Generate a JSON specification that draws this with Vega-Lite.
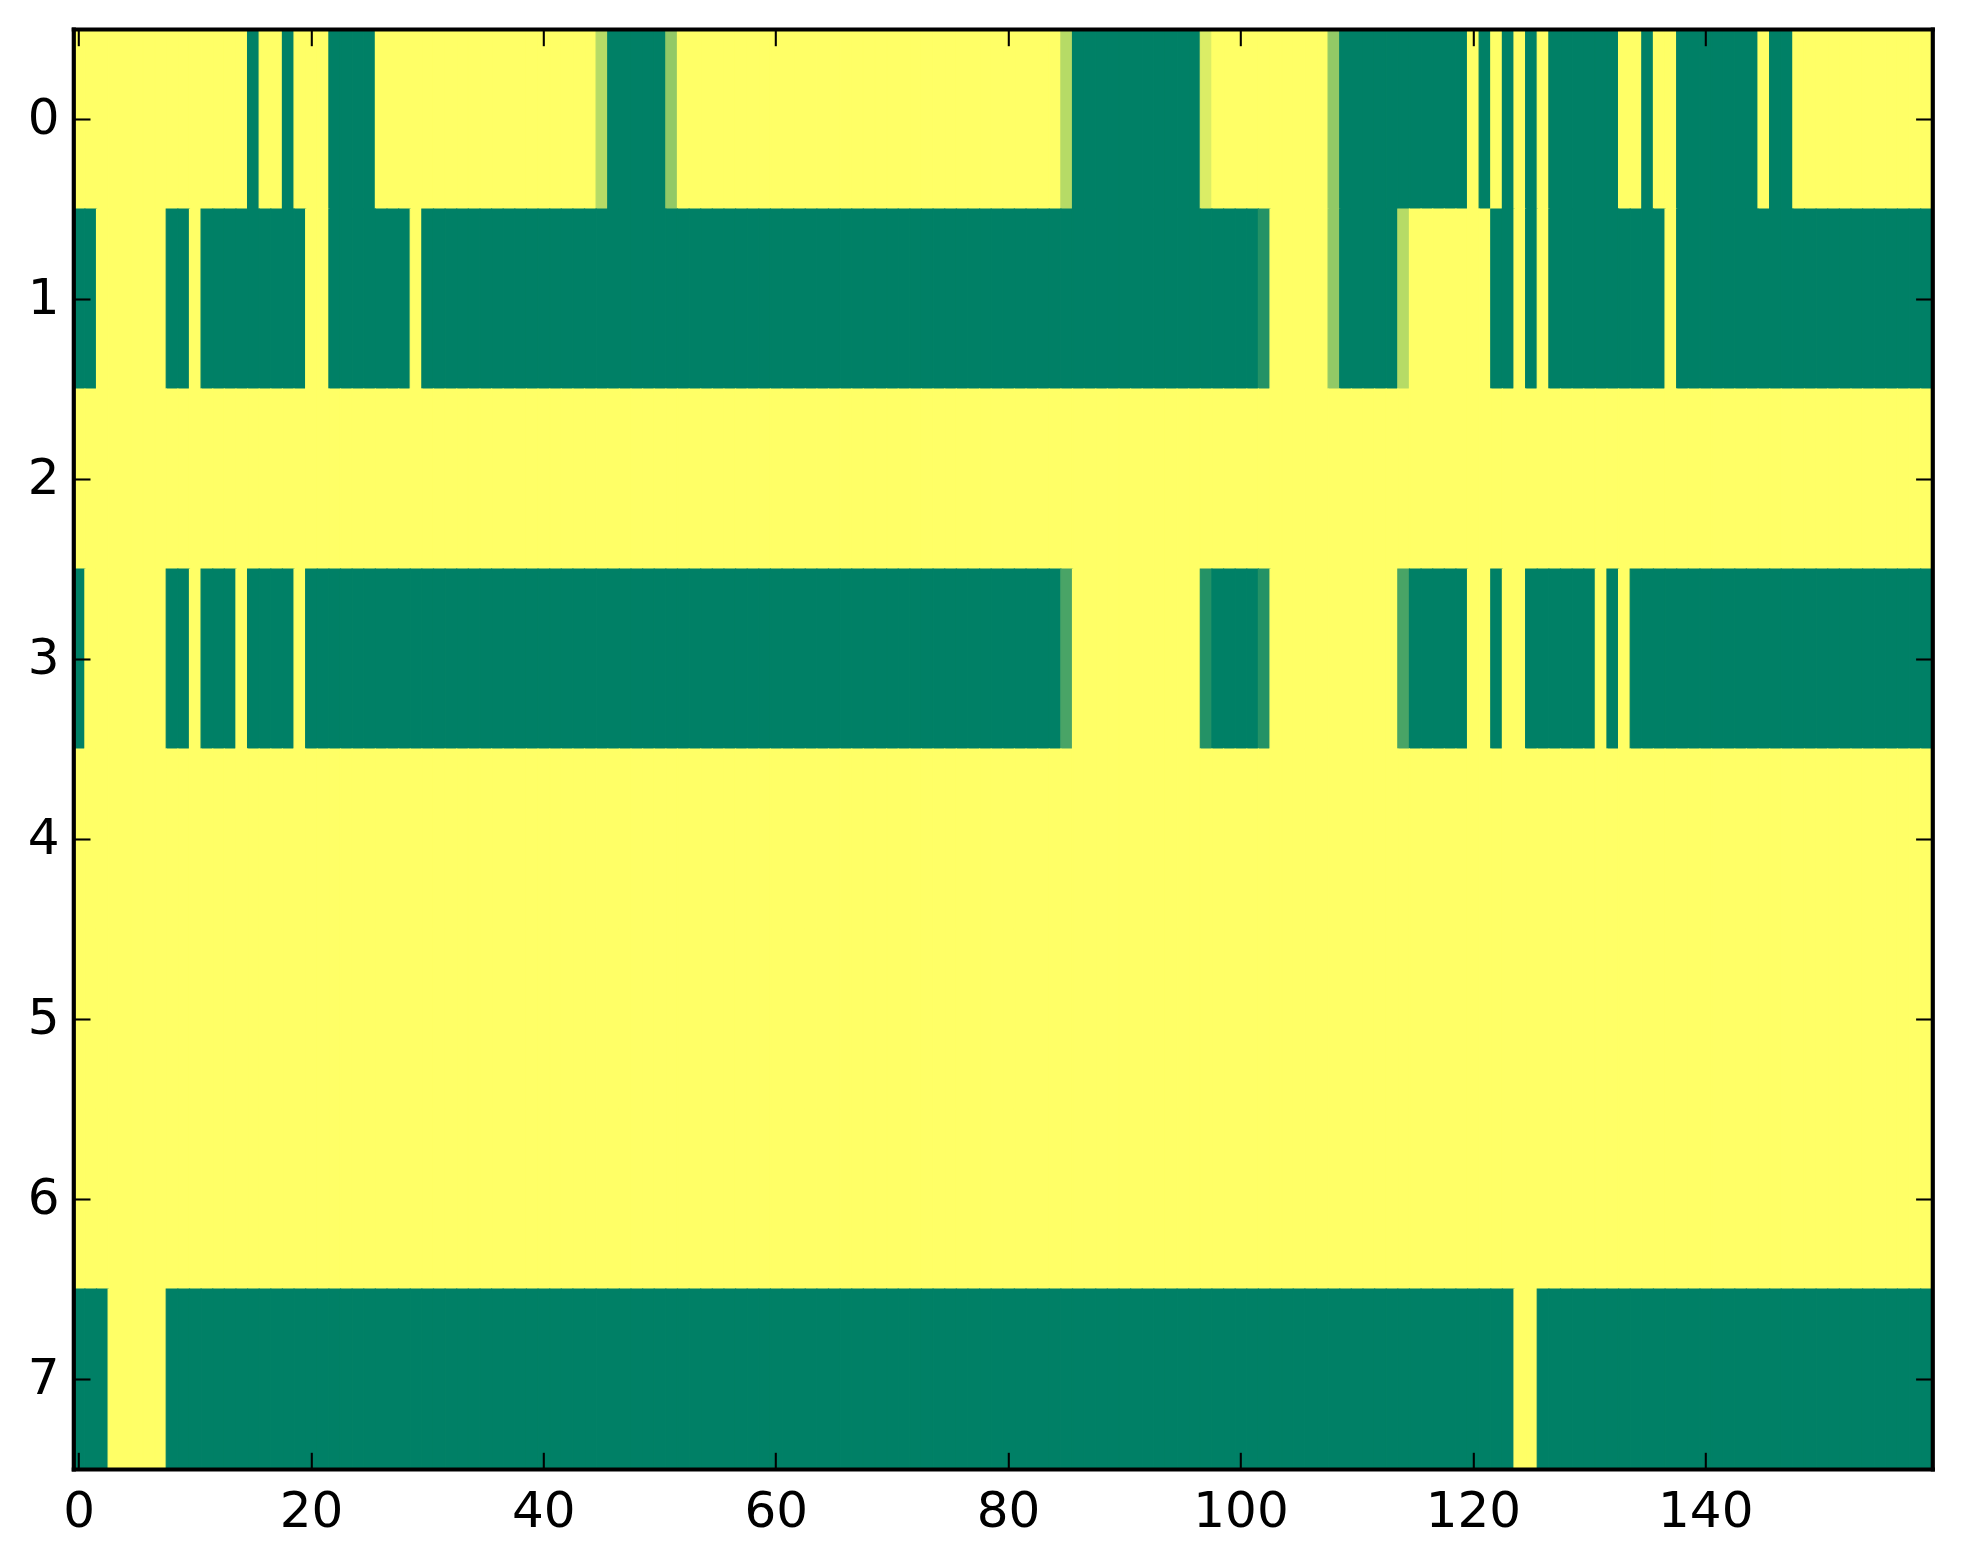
{
"$schema": "https://vega.github.io/schema/vega-lite/v6.json",
"width": 1859,
"height": 1440,
"autosize": {"type": "none"},
"padding": {"left": 73.3, "top": 29, "right": 30, "bottom": 95},
"background": "white",
"config": {
  "view": {"stroke": null},
  "axis": {"domain": true, "domainColor": "black", "domainWidth": 4.17, "domainCap": "square", "ticks": true, "tickColor": "black", "tickSize": -16.7, "tickWidth": 2.08, "grid": false, "labelFont": "DejaVu Sans", "labelFontSize": 50, "labelColor": "black", "zindex": 1, "labelFlush": false, "labelOverlap": false, "title": null},
  "axisX": {"labelPadding": 34},
  "axisY": {"labelPadding": 31}
},
"datasets": {
"cells": [
{"c":0,"r":0,"v":1},{"c":1,"r":0,"v":1},{"c":2,"r":0,"v":1},{"c":3,"r":0,"v":1},{"c":4,"r":0,"v":1},{"c":5,"r":0,"v":1},{"c":6,"r":0,"v":1},{"c":7,"r":0,"v":1},{"c":8,"r":0,"v":1},{"c":9,"r":0,"v":1},
{"c":10,"r":0,"v":1},{"c":11,"r":0,"v":1},{"c":12,"r":0,"v":1},{"c":13,"r":0,"v":1},{"c":14,"r":0,"v":1},{"c":15,"r":0,"v":0},{"c":16,"r":0,"v":1},{"c":17,"r":0,"v":1},{"c":18,"r":0,"v":0},{"c":19,"r":0,"v":1},
{"c":20,"r":0,"v":1},{"c":21,"r":0,"v":1},{"c":22,"r":0,"v":0},{"c":23,"r":0,"v":0},{"c":24,"r":0,"v":0},{"c":25,"r":0,"v":0},{"c":26,"r":0,"v":1},{"c":27,"r":0,"v":1},{"c":28,"r":0,"v":1},{"c":29,"r":0,"v":1},
{"c":30,"r":0,"v":1},{"c":31,"r":0,"v":1},{"c":32,"r":0,"v":1},{"c":33,"r":0,"v":1},{"c":34,"r":0,"v":1},{"c":35,"r":0,"v":1},{"c":36,"r":0,"v":1},{"c":37,"r":0,"v":1},{"c":38,"r":0,"v":1},{"c":39,"r":0,"v":1},
{"c":40,"r":0,"v":1},{"c":41,"r":0,"v":1},{"c":42,"r":0,"v":1},{"c":43,"r":0,"v":1},{"c":44,"r":0,"v":1},{"c":45,"r":0,"v":0.714},{"c":46,"r":0,"v":0},{"c":47,"r":0,"v":0},{"c":48,"r":0,"v":0},{"c":49,"r":0,"v":0},
{"c":50,"r":0,"v":0},{"c":51,"r":0,"v":0.571},{"c":52,"r":0,"v":1},{"c":53,"r":0,"v":1},{"c":54,"r":0,"v":1},{"c":55,"r":0,"v":1},{"c":56,"r":0,"v":1},{"c":57,"r":0,"v":1},{"c":58,"r":0,"v":1},{"c":59,"r":0,"v":1},
{"c":60,"r":0,"v":1},{"c":61,"r":0,"v":1},{"c":62,"r":0,"v":1},{"c":63,"r":0,"v":1},{"c":64,"r":0,"v":1},{"c":65,"r":0,"v":1},{"c":66,"r":0,"v":1},{"c":67,"r":0,"v":1},{"c":68,"r":0,"v":1},{"c":69,"r":0,"v":1},
{"c":70,"r":0,"v":1},{"c":71,"r":0,"v":1},{"c":72,"r":0,"v":1},{"c":73,"r":0,"v":1},{"c":74,"r":0,"v":1},{"c":75,"r":0,"v":1},{"c":76,"r":0,"v":1},{"c":77,"r":0,"v":1},{"c":78,"r":0,"v":1},{"c":79,"r":0,"v":1},
{"c":80,"r":0,"v":1},{"c":81,"r":0,"v":1},{"c":82,"r":0,"v":1},{"c":83,"r":0,"v":1},{"c":84,"r":0,"v":1},{"c":85,"r":0,"v":0.714},{"c":86,"r":0,"v":0},{"c":87,"r":0,"v":0},{"c":88,"r":0,"v":0},{"c":89,"r":0,"v":0},
{"c":90,"r":0,"v":0},{"c":91,"r":0,"v":0},{"c":92,"r":0,"v":0},{"c":93,"r":0,"v":0},{"c":94,"r":0,"v":0},{"c":95,"r":0,"v":0},{"c":96,"r":0,"v":0},{"c":97,"r":0,"v":0.857},{"c":98,"r":0,"v":1},{"c":99,"r":0,"v":1},
{"c":100,"r":0,"v":1},{"c":101,"r":0,"v":1},{"c":102,"r":0,"v":1},{"c":103,"r":0,"v":1},{"c":104,"r":0,"v":1},{"c":105,"r":0,"v":1},{"c":106,"r":0,"v":1},{"c":107,"r":0,"v":1},{"c":108,"r":0,"v":0.571},{"c":109,"r":0,"v":0},
{"c":110,"r":0,"v":0},{"c":111,"r":0,"v":0},{"c":112,"r":0,"v":0},{"c":113,"r":0,"v":0},{"c":114,"r":0,"v":0},{"c":115,"r":0,"v":0},{"c":116,"r":0,"v":0},{"c":117,"r":0,"v":0},{"c":118,"r":0,"v":0},{"c":119,"r":0,"v":0},
{"c":120,"r":0,"v":1},{"c":121,"r":0,"v":0},{"c":122,"r":0,"v":1},{"c":123,"r":0,"v":0},{"c":124,"r":0,"v":1},{"c":125,"r":0,"v":0},{"c":126,"r":0,"v":1},{"c":127,"r":0,"v":0},{"c":128,"r":0,"v":0},{"c":129,"r":0,"v":0},
{"c":130,"r":0,"v":0},{"c":131,"r":0,"v":0},{"c":132,"r":0,"v":0},{"c":133,"r":0,"v":1},{"c":134,"r":0,"v":1},{"c":135,"r":0,"v":0},{"c":136,"r":0,"v":1},{"c":137,"r":0,"v":1},{"c":138,"r":0,"v":0},{"c":139,"r":0,"v":0},
{"c":140,"r":0,"v":0},{"c":141,"r":0,"v":0},{"c":142,"r":0,"v":0},{"c":143,"r":0,"v":0},{"c":144,"r":0,"v":0},{"c":145,"r":0,"v":1},{"c":146,"r":0,"v":0},{"c":147,"r":0,"v":0},{"c":148,"r":0,"v":1},{"c":149,"r":0,"v":1},
{"c":150,"r":0,"v":1},{"c":151,"r":0,"v":1},{"c":152,"r":0,"v":1},{"c":153,"r":0,"v":1},{"c":154,"r":0,"v":1},{"c":155,"r":0,"v":1},{"c":156,"r":0,"v":1},{"c":157,"r":0,"v":1},{"c":158,"r":0,"v":1},{"c":159,"r":0,"v":1},

{"c":0,"r":1,"v":0},{"c":1,"r":1,"v":0},{"c":2,"r":1,"v":1},{"c":3,"r":1,"v":1},{"c":4,"r":1,"v":1},{"c":5,"r":1,"v":1},{"c":6,"r":1,"v":1},{"c":7,"r":1,"v":1},{"c":8,"r":1,"v":0},{"c":9,"r":1,"v":0},
{"c":10,"r":1,"v":1},{"c":11,"r":1,"v":0},{"c":12,"r":1,"v":0},{"c":13,"r":1,"v":0},{"c":14,"r":1,"v":0},{"c":15,"r":1,"v":0},{"c":16,"r":1,"v":0},{"c":17,"r":1,"v":0},{"c":18,"r":1,"v":0},{"c":19,"r":1,"v":0},
{"c":20,"r":1,"v":1},{"c":21,"r":1,"v":1},{"c":22,"r":1,"v":0},{"c":23,"r":1,"v":0},{"c":24,"r":1,"v":0},{"c":25,"r":1,"v":0},{"c":26,"r":1,"v":0},{"c":27,"r":1,"v":0},{"c":28,"r":1,"v":0},{"c":29,"r":1,"v":1},
{"c":30,"r":1,"v":0},{"c":31,"r":1,"v":0},{"c":32,"r":1,"v":0},{"c":33,"r":1,"v":0},{"c":34,"r":1,"v":0},{"c":35,"r":1,"v":0},{"c":36,"r":1,"v":0},{"c":37,"r":1,"v":0},{"c":38,"r":1,"v":0},{"c":39,"r":1,"v":0},
{"c":40,"r":1,"v":0},{"c":41,"r":1,"v":0},{"c":42,"r":1,"v":0},{"c":43,"r":1,"v":0},{"c":44,"r":1,"v":0},{"c":45,"r":1,"v":0},{"c":46,"r":1,"v":0},{"c":47,"r":1,"v":0},{"c":48,"r":1,"v":0},{"c":49,"r":1,"v":0},
{"c":50,"r":1,"v":0},{"c":51,"r":1,"v":0},{"c":52,"r":1,"v":0},{"c":53,"r":1,"v":0},{"c":54,"r":1,"v":0},{"c":55,"r":1,"v":0},{"c":56,"r":1,"v":0},{"c":57,"r":1,"v":0},{"c":58,"r":1,"v":0},{"c":59,"r":1,"v":0},
{"c":60,"r":1,"v":0},{"c":61,"r":1,"v":0},{"c":62,"r":1,"v":0},{"c":63,"r":1,"v":0},{"c":64,"r":1,"v":0},{"c":65,"r":1,"v":0},{"c":66,"r":1,"v":0},{"c":67,"r":1,"v":0},{"c":68,"r":1,"v":0},{"c":69,"r":1,"v":0},
{"c":70,"r":1,"v":0},{"c":71,"r":1,"v":0},{"c":72,"r":1,"v":0},{"c":73,"r":1,"v":0},{"c":74,"r":1,"v":0},{"c":75,"r":1,"v":0},{"c":76,"r":1,"v":0},{"c":77,"r":1,"v":0},{"c":78,"r":1,"v":0},{"c":79,"r":1,"v":0},
{"c":80,"r":1,"v":0},{"c":81,"r":1,"v":0},{"c":82,"r":1,"v":0},{"c":83,"r":1,"v":0},{"c":84,"r":1,"v":0},{"c":85,"r":1,"v":0},{"c":86,"r":1,"v":0},{"c":87,"r":1,"v":0},{"c":88,"r":1,"v":0},{"c":89,"r":1,"v":0},
{"c":90,"r":1,"v":0},{"c":91,"r":1,"v":0},{"c":92,"r":1,"v":0},{"c":93,"r":1,"v":0},{"c":94,"r":1,"v":0},{"c":95,"r":1,"v":0},{"c":96,"r":1,"v":0},{"c":97,"r":1,"v":0},{"c":98,"r":1,"v":0},{"c":99,"r":1,"v":0},
{"c":100,"r":1,"v":0},{"c":101,"r":1,"v":0},{"c":102,"r":1,"v":0.143},{"c":103,"r":1,"v":1},{"c":104,"r":1,"v":1},{"c":105,"r":1,"v":1},{"c":106,"r":1,"v":1},{"c":107,"r":1,"v":1},{"c":108,"r":1,"v":0.571},{"c":109,"r":1,"v":0},
{"c":110,"r":1,"v":0},{"c":111,"r":1,"v":0},{"c":112,"r":1,"v":0},{"c":113,"r":1,"v":0},{"c":114,"r":1,"v":0.714},{"c":115,"r":1,"v":1},{"c":116,"r":1,"v":1},{"c":117,"r":1,"v":1},{"c":118,"r":1,"v":1},{"c":119,"r":1,"v":1},
{"c":120,"r":1,"v":1},{"c":121,"r":1,"v":1},{"c":122,"r":1,"v":0},{"c":123,"r":1,"v":0},{"c":124,"r":1,"v":1},{"c":125,"r":1,"v":0},{"c":126,"r":1,"v":1},{"c":127,"r":1,"v":0},{"c":128,"r":1,"v":0},{"c":129,"r":1,"v":0},
{"c":130,"r":1,"v":0},{"c":131,"r":1,"v":0},{"c":132,"r":1,"v":0},{"c":133,"r":1,"v":0},{"c":134,"r":1,"v":0},{"c":135,"r":1,"v":0},{"c":136,"r":1,"v":0},{"c":137,"r":1,"v":1},{"c":138,"r":1,"v":0},{"c":139,"r":1,"v":0},
{"c":140,"r":1,"v":0},{"c":141,"r":1,"v":0},{"c":142,"r":1,"v":0},{"c":143,"r":1,"v":0},{"c":144,"r":1,"v":0},{"c":145,"r":1,"v":0},{"c":146,"r":1,"v":0},{"c":147,"r":1,"v":0},{"c":148,"r":1,"v":0},{"c":149,"r":1,"v":0},
{"c":150,"r":1,"v":0},{"c":151,"r":1,"v":0},{"c":152,"r":1,"v":0},{"c":153,"r":1,"v":0},{"c":154,"r":1,"v":0},{"c":155,"r":1,"v":0},{"c":156,"r":1,"v":0},{"c":157,"r":1,"v":0},{"c":158,"r":1,"v":0},{"c":159,"r":1,"v":0},

{"c":0,"r":2,"v":1},{"c":1,"r":2,"v":1},{"c":2,"r":2,"v":1},{"c":3,"r":2,"v":1},{"c":4,"r":2,"v":1},{"c":5,"r":2,"v":1},{"c":6,"r":2,"v":1},{"c":7,"r":2,"v":1},{"c":8,"r":2,"v":1},{"c":9,"r":2,"v":1},
{"c":10,"r":2,"v":1},{"c":11,"r":2,"v":1},{"c":12,"r":2,"v":1},{"c":13,"r":2,"v":1},{"c":14,"r":2,"v":1},{"c":15,"r":2,"v":1},{"c":16,"r":2,"v":1},{"c":17,"r":2,"v":1},{"c":18,"r":2,"v":1},{"c":19,"r":2,"v":1},
{"c":20,"r":2,"v":1},{"c":21,"r":2,"v":1},{"c":22,"r":2,"v":1},{"c":23,"r":2,"v":1},{"c":24,"r":2,"v":1},{"c":25,"r":2,"v":1},{"c":26,"r":2,"v":1},{"c":27,"r":2,"v":1},{"c":28,"r":2,"v":1},{"c":29,"r":2,"v":1},
{"c":30,"r":2,"v":1},{"c":31,"r":2,"v":1},{"c":32,"r":2,"v":1},{"c":33,"r":2,"v":1},{"c":34,"r":2,"v":1},{"c":35,"r":2,"v":1},{"c":36,"r":2,"v":1},{"c":37,"r":2,"v":1},{"c":38,"r":2,"v":1},{"c":39,"r":2,"v":1},
{"c":40,"r":2,"v":1},{"c":41,"r":2,"v":1},{"c":42,"r":2,"v":1},{"c":43,"r":2,"v":1},{"c":44,"r":2,"v":1},{"c":45,"r":2,"v":1},{"c":46,"r":2,"v":1},{"c":47,"r":2,"v":1},{"c":48,"r":2,"v":1},{"c":49,"r":2,"v":1},
{"c":50,"r":2,"v":1},{"c":51,"r":2,"v":1},{"c":52,"r":2,"v":1},{"c":53,"r":2,"v":1},{"c":54,"r":2,"v":1},{"c":55,"r":2,"v":1},{"c":56,"r":2,"v":1},{"c":57,"r":2,"v":1},{"c":58,"r":2,"v":1},{"c":59,"r":2,"v":1},
{"c":60,"r":2,"v":1},{"c":61,"r":2,"v":1},{"c":62,"r":2,"v":1},{"c":63,"r":2,"v":1},{"c":64,"r":2,"v":1},{"c":65,"r":2,"v":1},{"c":66,"r":2,"v":1},{"c":67,"r":2,"v":1},{"c":68,"r":2,"v":1},{"c":69,"r":2,"v":1},
{"c":70,"r":2,"v":1},{"c":71,"r":2,"v":1},{"c":72,"r":2,"v":1},{"c":73,"r":2,"v":1},{"c":74,"r":2,"v":1},{"c":75,"r":2,"v":1},{"c":76,"r":2,"v":1},{"c":77,"r":2,"v":1},{"c":78,"r":2,"v":1},{"c":79,"r":2,"v":1},
{"c":80,"r":2,"v":1},{"c":81,"r":2,"v":1},{"c":82,"r":2,"v":1},{"c":83,"r":2,"v":1},{"c":84,"r":2,"v":1},{"c":85,"r":2,"v":1},{"c":86,"r":2,"v":1},{"c":87,"r":2,"v":1},{"c":88,"r":2,"v":1},{"c":89,"r":2,"v":1},
{"c":90,"r":2,"v":1},{"c":91,"r":2,"v":1},{"c":92,"r":2,"v":1},{"c":93,"r":2,"v":1},{"c":94,"r":2,"v":1},{"c":95,"r":2,"v":1},{"c":96,"r":2,"v":1},{"c":97,"r":2,"v":1},{"c":98,"r":2,"v":1},{"c":99,"r":2,"v":1},
{"c":100,"r":2,"v":1},{"c":101,"r":2,"v":1},{"c":102,"r":2,"v":1},{"c":103,"r":2,"v":1},{"c":104,"r":2,"v":1},{"c":105,"r":2,"v":1},{"c":106,"r":2,"v":1},{"c":107,"r":2,"v":1},{"c":108,"r":2,"v":1},{"c":109,"r":2,"v":1},
{"c":110,"r":2,"v":1},{"c":111,"r":2,"v":1},{"c":112,"r":2,"v":1},{"c":113,"r":2,"v":1},{"c":114,"r":2,"v":1},{"c":115,"r":2,"v":1},{"c":116,"r":2,"v":1},{"c":117,"r":2,"v":1},{"c":118,"r":2,"v":1},{"c":119,"r":2,"v":1},
{"c":120,"r":2,"v":1},{"c":121,"r":2,"v":1},{"c":122,"r":2,"v":1},{"c":123,"r":2,"v":1},{"c":124,"r":2,"v":1},{"c":125,"r":2,"v":1},{"c":126,"r":2,"v":1},{"c":127,"r":2,"v":1},{"c":128,"r":2,"v":1},{"c":129,"r":2,"v":1},
{"c":130,"r":2,"v":1},{"c":131,"r":2,"v":1},{"c":132,"r":2,"v":1},{"c":133,"r":2,"v":1},{"c":134,"r":2,"v":1},{"c":135,"r":2,"v":1},{"c":136,"r":2,"v":1},{"c":137,"r":2,"v":1},{"c":138,"r":2,"v":1},{"c":139,"r":2,"v":1},
{"c":140,"r":2,"v":1},{"c":141,"r":2,"v":1},{"c":142,"r":2,"v":1},{"c":143,"r":2,"v":1},{"c":144,"r":2,"v":1},{"c":145,"r":2,"v":1},{"c":146,"r":2,"v":1},{"c":147,"r":2,"v":1},{"c":148,"r":2,"v":1},{"c":149,"r":2,"v":1},
{"c":150,"r":2,"v":1},{"c":151,"r":2,"v":1},{"c":152,"r":2,"v":1},{"c":153,"r":2,"v":1},{"c":154,"r":2,"v":1},{"c":155,"r":2,"v":1},{"c":156,"r":2,"v":1},{"c":157,"r":2,"v":1},{"c":158,"r":2,"v":1},{"c":159,"r":2,"v":1},

{"c":0,"r":3,"v":0},{"c":1,"r":3,"v":1},{"c":2,"r":3,"v":1},{"c":3,"r":3,"v":1},{"c":4,"r":3,"v":1},{"c":5,"r":3,"v":1},{"c":6,"r":3,"v":1},{"c":7,"r":3,"v":1},{"c":8,"r":3,"v":0},{"c":9,"r":3,"v":0},
{"c":10,"r":3,"v":1},{"c":11,"r":3,"v":0},{"c":12,"r":3,"v":0},{"c":13,"r":3,"v":0},{"c":14,"r":3,"v":1},{"c":15,"r":3,"v":0},{"c":16,"r":3,"v":0},{"c":17,"r":3,"v":0},{"c":18,"r":3,"v":0},{"c":19,"r":3,"v":1},
{"c":20,"r":3,"v":0},{"c":21,"r":3,"v":0},{"c":22,"r":3,"v":0},{"c":23,"r":3,"v":0},{"c":24,"r":3,"v":0},{"c":25,"r":3,"v":0},{"c":26,"r":3,"v":0},{"c":27,"r":3,"v":0},{"c":28,"r":3,"v":0},{"c":29,"r":3,"v":0},
{"c":30,"r":3,"v":0},{"c":31,"r":3,"v":0},{"c":32,"r":3,"v":0},{"c":33,"r":3,"v":0},{"c":34,"r":3,"v":0},{"c":35,"r":3,"v":0},{"c":36,"r":3,"v":0},{"c":37,"r":3,"v":0},{"c":38,"r":3,"v":0},{"c":39,"r":3,"v":0},
{"c":40,"r":3,"v":0},{"c":41,"r":3,"v":0},{"c":42,"r":3,"v":0},{"c":43,"r":3,"v":0},{"c":44,"r":3,"v":0},{"c":45,"r":3,"v":0},{"c":46,"r":3,"v":0},{"c":47,"r":3,"v":0},{"c":48,"r":3,"v":0},{"c":49,"r":3,"v":0},
{"c":50,"r":3,"v":0},{"c":51,"r":3,"v":0},{"c":52,"r":3,"v":0},{"c":53,"r":3,"v":0},{"c":54,"r":3,"v":0},{"c":55,"r":3,"v":0},{"c":56,"r":3,"v":0},{"c":57,"r":3,"v":0},{"c":58,"r":3,"v":0},{"c":59,"r":3,"v":0},
{"c":60,"r":3,"v":0},{"c":61,"r":3,"v":0},{"c":62,"r":3,"v":0},{"c":63,"r":3,"v":0},{"c":64,"r":3,"v":0},{"c":65,"r":3,"v":0},{"c":66,"r":3,"v":0},{"c":67,"r":3,"v":0},{"c":68,"r":3,"v":0},{"c":69,"r":3,"v":0},
{"c":70,"r":3,"v":0},{"c":71,"r":3,"v":0},{"c":72,"r":3,"v":0},{"c":73,"r":3,"v":0},{"c":74,"r":3,"v":0},{"c":75,"r":3,"v":0},{"c":76,"r":3,"v":0},{"c":77,"r":3,"v":0},{"c":78,"r":3,"v":0},{"c":79,"r":3,"v":0},
{"c":80,"r":3,"v":0},{"c":81,"r":3,"v":0},{"c":82,"r":3,"v":0},{"c":83,"r":3,"v":0},{"c":84,"r":3,"v":0},{"c":85,"r":3,"v":0.286},{"c":86,"r":3,"v":1},{"c":87,"r":3,"v":1},{"c":88,"r":3,"v":1},{"c":89,"r":3,"v":1},
{"c":90,"r":3,"v":1},{"c":91,"r":3,"v":1},{"c":92,"r":3,"v":1},{"c":93,"r":3,"v":1},{"c":94,"r":3,"v":1},{"c":95,"r":3,"v":1},{"c":96,"r":3,"v":1},{"c":97,"r":3,"v":0.143},{"c":98,"r":3,"v":0},{"c":99,"r":3,"v":0},
{"c":100,"r":3,"v":0},{"c":101,"r":3,"v":0},{"c":102,"r":3,"v":0.143},{"c":103,"r":3,"v":1},{"c":104,"r":3,"v":1},{"c":105,"r":3,"v":1},{"c":106,"r":3,"v":1},{"c":107,"r":3,"v":1},{"c":108,"r":3,"v":1},{"c":109,"r":3,"v":1},
{"c":110,"r":3,"v":1},{"c":111,"r":3,"v":1},{"c":112,"r":3,"v":1},{"c":113,"r":3,"v":1},{"c":114,"r":3,"v":0.286},{"c":115,"r":3,"v":0},{"c":116,"r":3,"v":0},{"c":117,"r":3,"v":0},{"c":118,"r":3,"v":0},{"c":119,"r":3,"v":0},
{"c":120,"r":3,"v":1},{"c":121,"r":3,"v":1},{"c":122,"r":3,"v":0},{"c":123,"r":3,"v":1},{"c":124,"r":3,"v":1},{"c":125,"r":3,"v":0},{"c":126,"r":3,"v":0},{"c":127,"r":3,"v":0},{"c":128,"r":3,"v":0},{"c":129,"r":3,"v":0},
{"c":130,"r":3,"v":0},{"c":131,"r":3,"v":1},{"c":132,"r":3,"v":0},{"c":133,"r":3,"v":1},{"c":134,"r":3,"v":0},{"c":135,"r":3,"v":0},{"c":136,"r":3,"v":0},{"c":137,"r":3,"v":0},{"c":138,"r":3,"v":0},{"c":139,"r":3,"v":0},
{"c":140,"r":3,"v":0},{"c":141,"r":3,"v":0},{"c":142,"r":3,"v":0},{"c":143,"r":3,"v":0},{"c":144,"r":3,"v":0},{"c":145,"r":3,"v":0},{"c":146,"r":3,"v":0},{"c":147,"r":3,"v":0},{"c":148,"r":3,"v":0},{"c":149,"r":3,"v":0},
{"c":150,"r":3,"v":0},{"c":151,"r":3,"v":0},{"c":152,"r":3,"v":0},{"c":153,"r":3,"v":0},{"c":154,"r":3,"v":0},{"c":155,"r":3,"v":0},{"c":156,"r":3,"v":0},{"c":157,"r":3,"v":0},{"c":158,"r":3,"v":0},{"c":159,"r":3,"v":0},

{"c":0,"r":4,"v":1},{"c":1,"r":4,"v":1},{"c":2,"r":4,"v":1},{"c":3,"r":4,"v":1},{"c":4,"r":4,"v":1},{"c":5,"r":4,"v":1},{"c":6,"r":4,"v":1},{"c":7,"r":4,"v":1},{"c":8,"r":4,"v":1},{"c":9,"r":4,"v":1},
{"c":10,"r":4,"v":1},{"c":11,"r":4,"v":1},{"c":12,"r":4,"v":1},{"c":13,"r":4,"v":1},{"c":14,"r":4,"v":1},{"c":15,"r":4,"v":1},{"c":16,"r":4,"v":1},{"c":17,"r":4,"v":1},{"c":18,"r":4,"v":1},{"c":19,"r":4,"v":1},
{"c":20,"r":4,"v":1},{"c":21,"r":4,"v":1},{"c":22,"r":4,"v":1},{"c":23,"r":4,"v":1},{"c":24,"r":4,"v":1},{"c":25,"r":4,"v":1},{"c":26,"r":4,"v":1},{"c":27,"r":4,"v":1},{"c":28,"r":4,"v":1},{"c":29,"r":4,"v":1},
{"c":30,"r":4,"v":1},{"c":31,"r":4,"v":1},{"c":32,"r":4,"v":1},{"c":33,"r":4,"v":1},{"c":34,"r":4,"v":1},{"c":35,"r":4,"v":1},{"c":36,"r":4,"v":1},{"c":37,"r":4,"v":1},{"c":38,"r":4,"v":1},{"c":39,"r":4,"v":1},
{"c":40,"r":4,"v":1},{"c":41,"r":4,"v":1},{"c":42,"r":4,"v":1},{"c":43,"r":4,"v":1},{"c":44,"r":4,"v":1},{"c":45,"r":4,"v":1},{"c":46,"r":4,"v":1},{"c":47,"r":4,"v":1},{"c":48,"r":4,"v":1},{"c":49,"r":4,"v":1},
{"c":50,"r":4,"v":1},{"c":51,"r":4,"v":1},{"c":52,"r":4,"v":1},{"c":53,"r":4,"v":1},{"c":54,"r":4,"v":1},{"c":55,"r":4,"v":1},{"c":56,"r":4,"v":1},{"c":57,"r":4,"v":1},{"c":58,"r":4,"v":1},{"c":59,"r":4,"v":1},
{"c":60,"r":4,"v":1},{"c":61,"r":4,"v":1},{"c":62,"r":4,"v":1},{"c":63,"r":4,"v":1},{"c":64,"r":4,"v":1},{"c":65,"r":4,"v":1},{"c":66,"r":4,"v":1},{"c":67,"r":4,"v":1},{"c":68,"r":4,"v":1},{"c":69,"r":4,"v":1},
{"c":70,"r":4,"v":1},{"c":71,"r":4,"v":1},{"c":72,"r":4,"v":1},{"c":73,"r":4,"v":1},{"c":74,"r":4,"v":1},{"c":75,"r":4,"v":1},{"c":76,"r":4,"v":1},{"c":77,"r":4,"v":1},{"c":78,"r":4,"v":1},{"c":79,"r":4,"v":1},
{"c":80,"r":4,"v":1},{"c":81,"r":4,"v":1},{"c":82,"r":4,"v":1},{"c":83,"r":4,"v":1},{"c":84,"r":4,"v":1},{"c":85,"r":4,"v":1},{"c":86,"r":4,"v":1},{"c":87,"r":4,"v":1},{"c":88,"r":4,"v":1},{"c":89,"r":4,"v":1},
{"c":90,"r":4,"v":1},{"c":91,"r":4,"v":1},{"c":92,"r":4,"v":1},{"c":93,"r":4,"v":1},{"c":94,"r":4,"v":1},{"c":95,"r":4,"v":1},{"c":96,"r":4,"v":1},{"c":97,"r":4,"v":1},{"c":98,"r":4,"v":1},{"c":99,"r":4,"v":1},
{"c":100,"r":4,"v":1},{"c":101,"r":4,"v":1},{"c":102,"r":4,"v":1},{"c":103,"r":4,"v":1},{"c":104,"r":4,"v":1},{"c":105,"r":4,"v":1},{"c":106,"r":4,"v":1},{"c":107,"r":4,"v":1},{"c":108,"r":4,"v":1},{"c":109,"r":4,"v":1},
{"c":110,"r":4,"v":1},{"c":111,"r":4,"v":1},{"c":112,"r":4,"v":1},{"c":113,"r":4,"v":1},{"c":114,"r":4,"v":1},{"c":115,"r":4,"v":1},{"c":116,"r":4,"v":1},{"c":117,"r":4,"v":1},{"c":118,"r":4,"v":1},{"c":119,"r":4,"v":1},
{"c":120,"r":4,"v":1},{"c":121,"r":4,"v":1},{"c":122,"r":4,"v":1},{"c":123,"r":4,"v":1},{"c":124,"r":4,"v":1},{"c":125,"r":4,"v":1},{"c":126,"r":4,"v":1},{"c":127,"r":4,"v":1},{"c":128,"r":4,"v":1},{"c":129,"r":4,"v":1},
{"c":130,"r":4,"v":1},{"c":131,"r":4,"v":1},{"c":132,"r":4,"v":1},{"c":133,"r":4,"v":1},{"c":134,"r":4,"v":1},{"c":135,"r":4,"v":1},{"c":136,"r":4,"v":1},{"c":137,"r":4,"v":1},{"c":138,"r":4,"v":1},{"c":139,"r":4,"v":1},
{"c":140,"r":4,"v":1},{"c":141,"r":4,"v":1},{"c":142,"r":4,"v":1},{"c":143,"r":4,"v":1},{"c":144,"r":4,"v":1},{"c":145,"r":4,"v":1},{"c":146,"r":4,"v":1},{"c":147,"r":4,"v":1},{"c":148,"r":4,"v":1},{"c":149,"r":4,"v":1},
{"c":150,"r":4,"v":1},{"c":151,"r":4,"v":1},{"c":152,"r":4,"v":1},{"c":153,"r":4,"v":1},{"c":154,"r":4,"v":1},{"c":155,"r":4,"v":1},{"c":156,"r":4,"v":1},{"c":157,"r":4,"v":1},{"c":158,"r":4,"v":1},{"c":159,"r":4,"v":1},

{"c":0,"r":5,"v":1},{"c":1,"r":5,"v":1},{"c":2,"r":5,"v":1},{"c":3,"r":5,"v":1},{"c":4,"r":5,"v":1},{"c":5,"r":5,"v":1},{"c":6,"r":5,"v":1},{"c":7,"r":5,"v":1},{"c":8,"r":5,"v":1},{"c":9,"r":5,"v":1},
{"c":10,"r":5,"v":1},{"c":11,"r":5,"v":1},{"c":12,"r":5,"v":1},{"c":13,"r":5,"v":1},{"c":14,"r":5,"v":1},{"c":15,"r":5,"v":1},{"c":16,"r":5,"v":1},{"c":17,"r":5,"v":1},{"c":18,"r":5,"v":1},{"c":19,"r":5,"v":1},
{"c":20,"r":5,"v":1},{"c":21,"r":5,"v":1},{"c":22,"r":5,"v":1},{"c":23,"r":5,"v":1},{"c":24,"r":5,"v":1},{"c":25,"r":5,"v":1},{"c":26,"r":5,"v":1},{"c":27,"r":5,"v":1},{"c":28,"r":5,"v":1},{"c":29,"r":5,"v":1},
{"c":30,"r":5,"v":1},{"c":31,"r":5,"v":1},{"c":32,"r":5,"v":1},{"c":33,"r":5,"v":1},{"c":34,"r":5,"v":1},{"c":35,"r":5,"v":1},{"c":36,"r":5,"v":1},{"c":37,"r":5,"v":1},{"c":38,"r":5,"v":1},{"c":39,"r":5,"v":1},
{"c":40,"r":5,"v":1},{"c":41,"r":5,"v":1},{"c":42,"r":5,"v":1},{"c":43,"r":5,"v":1},{"c":44,"r":5,"v":1},{"c":45,"r":5,"v":1},{"c":46,"r":5,"v":1},{"c":47,"r":5,"v":1},{"c":48,"r":5,"v":1},{"c":49,"r":5,"v":1},
{"c":50,"r":5,"v":1},{"c":51,"r":5,"v":1},{"c":52,"r":5,"v":1},{"c":53,"r":5,"v":1},{"c":54,"r":5,"v":1},{"c":55,"r":5,"v":1},{"c":56,"r":5,"v":1},{"c":57,"r":5,"v":1},{"c":58,"r":5,"v":1},{"c":59,"r":5,"v":1},
{"c":60,"r":5,"v":1},{"c":61,"r":5,"v":1},{"c":62,"r":5,"v":1},{"c":63,"r":5,"v":1},{"c":64,"r":5,"v":1},{"c":65,"r":5,"v":1},{"c":66,"r":5,"v":1},{"c":67,"r":5,"v":1},{"c":68,"r":5,"v":1},{"c":69,"r":5,"v":1},
{"c":70,"r":5,"v":1},{"c":71,"r":5,"v":1},{"c":72,"r":5,"v":1},{"c":73,"r":5,"v":1},{"c":74,"r":5,"v":1},{"c":75,"r":5,"v":1},{"c":76,"r":5,"v":1},{"c":77,"r":5,"v":1},{"c":78,"r":5,"v":1},{"c":79,"r":5,"v":1},
{"c":80,"r":5,"v":1},{"c":81,"r":5,"v":1},{"c":82,"r":5,"v":1},{"c":83,"r":5,"v":1},{"c":84,"r":5,"v":1},{"c":85,"r":5,"v":1},{"c":86,"r":5,"v":1},{"c":87,"r":5,"v":1},{"c":88,"r":5,"v":1},{"c":89,"r":5,"v":1},
{"c":90,"r":5,"v":1},{"c":91,"r":5,"v":1},{"c":92,"r":5,"v":1},{"c":93,"r":5,"v":1},{"c":94,"r":5,"v":1},{"c":95,"r":5,"v":1},{"c":96,"r":5,"v":1},{"c":97,"r":5,"v":1},{"c":98,"r":5,"v":1},{"c":99,"r":5,"v":1},
{"c":100,"r":5,"v":1},{"c":101,"r":5,"v":1},{"c":102,"r":5,"v":1},{"c":103,"r":5,"v":1},{"c":104,"r":5,"v":1},{"c":105,"r":5,"v":1},{"c":106,"r":5,"v":1},{"c":107,"r":5,"v":1},{"c":108,"r":5,"v":1},{"c":109,"r":5,"v":1},
{"c":110,"r":5,"v":1},{"c":111,"r":5,"v":1},{"c":112,"r":5,"v":1},{"c":113,"r":5,"v":1},{"c":114,"r":5,"v":1},{"c":115,"r":5,"v":1},{"c":116,"r":5,"v":1},{"c":117,"r":5,"v":1},{"c":118,"r":5,"v":1},{"c":119,"r":5,"v":1},
{"c":120,"r":5,"v":1},{"c":121,"r":5,"v":1},{"c":122,"r":5,"v":1},{"c":123,"r":5,"v":1},{"c":124,"r":5,"v":1},{"c":125,"r":5,"v":1},{"c":126,"r":5,"v":1},{"c":127,"r":5,"v":1},{"c":128,"r":5,"v":1},{"c":129,"r":5,"v":1},
{"c":130,"r":5,"v":1},{"c":131,"r":5,"v":1},{"c":132,"r":5,"v":1},{"c":133,"r":5,"v":1},{"c":134,"r":5,"v":1},{"c":135,"r":5,"v":1},{"c":136,"r":5,"v":1},{"c":137,"r":5,"v":1},{"c":138,"r":5,"v":1},{"c":139,"r":5,"v":1},
{"c":140,"r":5,"v":1},{"c":141,"r":5,"v":1},{"c":142,"r":5,"v":1},{"c":143,"r":5,"v":1},{"c":144,"r":5,"v":1},{"c":145,"r":5,"v":1},{"c":146,"r":5,"v":1},{"c":147,"r":5,"v":1},{"c":148,"r":5,"v":1},{"c":149,"r":5,"v":1},
{"c":150,"r":5,"v":1},{"c":151,"r":5,"v":1},{"c":152,"r":5,"v":1},{"c":153,"r":5,"v":1},{"c":154,"r":5,"v":1},{"c":155,"r":5,"v":1},{"c":156,"r":5,"v":1},{"c":157,"r":5,"v":1},{"c":158,"r":5,"v":1},{"c":159,"r":5,"v":1},

{"c":0,"r":6,"v":1},{"c":1,"r":6,"v":1},{"c":2,"r":6,"v":1},{"c":3,"r":6,"v":1},{"c":4,"r":6,"v":1},{"c":5,"r":6,"v":1},{"c":6,"r":6,"v":1},{"c":7,"r":6,"v":1},{"c":8,"r":6,"v":1},{"c":9,"r":6,"v":1},
{"c":10,"r":6,"v":1},{"c":11,"r":6,"v":1},{"c":12,"r":6,"v":1},{"c":13,"r":6,"v":1},{"c":14,"r":6,"v":1},{"c":15,"r":6,"v":1},{"c":16,"r":6,"v":1},{"c":17,"r":6,"v":1},{"c":18,"r":6,"v":1},{"c":19,"r":6,"v":1},
{"c":20,"r":6,"v":1},{"c":21,"r":6,"v":1},{"c":22,"r":6,"v":1},{"c":23,"r":6,"v":1},{"c":24,"r":6,"v":1},{"c":25,"r":6,"v":1},{"c":26,"r":6,"v":1},{"c":27,"r":6,"v":1},{"c":28,"r":6,"v":1},{"c":29,"r":6,"v":1},
{"c":30,"r":6,"v":1},{"c":31,"r":6,"v":1},{"c":32,"r":6,"v":1},{"c":33,"r":6,"v":1},{"c":34,"r":6,"v":1},{"c":35,"r":6,"v":1},{"c":36,"r":6,"v":1},{"c":37,"r":6,"v":1},{"c":38,"r":6,"v":1},{"c":39,"r":6,"v":1},
{"c":40,"r":6,"v":1},{"c":41,"r":6,"v":1},{"c":42,"r":6,"v":1},{"c":43,"r":6,"v":1},{"c":44,"r":6,"v":1},{"c":45,"r":6,"v":1},{"c":46,"r":6,"v":1},{"c":47,"r":6,"v":1},{"c":48,"r":6,"v":1},{"c":49,"r":6,"v":1},
{"c":50,"r":6,"v":1},{"c":51,"r":6,"v":1},{"c":52,"r":6,"v":1},{"c":53,"r":6,"v":1},{"c":54,"r":6,"v":1},{"c":55,"r":6,"v":1},{"c":56,"r":6,"v":1},{"c":57,"r":6,"v":1},{"c":58,"r":6,"v":1},{"c":59,"r":6,"v":1},
{"c":60,"r":6,"v":1},{"c":61,"r":6,"v":1},{"c":62,"r":6,"v":1},{"c":63,"r":6,"v":1},{"c":64,"r":6,"v":1},{"c":65,"r":6,"v":1},{"c":66,"r":6,"v":1},{"c":67,"r":6,"v":1},{"c":68,"r":6,"v":1},{"c":69,"r":6,"v":1},
{"c":70,"r":6,"v":1},{"c":71,"r":6,"v":1},{"c":72,"r":6,"v":1},{"c":73,"r":6,"v":1},{"c":74,"r":6,"v":1},{"c":75,"r":6,"v":1},{"c":76,"r":6,"v":1},{"c":77,"r":6,"v":1},{"c":78,"r":6,"v":1},{"c":79,"r":6,"v":1},
{"c":80,"r":6,"v":1},{"c":81,"r":6,"v":1},{"c":82,"r":6,"v":1},{"c":83,"r":6,"v":1},{"c":84,"r":6,"v":1},{"c":85,"r":6,"v":1},{"c":86,"r":6,"v":1},{"c":87,"r":6,"v":1},{"c":88,"r":6,"v":1},{"c":89,"r":6,"v":1},
{"c":90,"r":6,"v":1},{"c":91,"r":6,"v":1},{"c":92,"r":6,"v":1},{"c":93,"r":6,"v":1},{"c":94,"r":6,"v":1},{"c":95,"r":6,"v":1},{"c":96,"r":6,"v":1},{"c":97,"r":6,"v":1},{"c":98,"r":6,"v":1},{"c":99,"r":6,"v":1},
{"c":100,"r":6,"v":1},{"c":101,"r":6,"v":1},{"c":102,"r":6,"v":1},{"c":103,"r":6,"v":1},{"c":104,"r":6,"v":1},{"c":105,"r":6,"v":1},{"c":106,"r":6,"v":1},{"c":107,"r":6,"v":1},{"c":108,"r":6,"v":1},{"c":109,"r":6,"v":1},
{"c":110,"r":6,"v":1},{"c":111,"r":6,"v":1},{"c":112,"r":6,"v":1},{"c":113,"r":6,"v":1},{"c":114,"r":6,"v":1},{"c":115,"r":6,"v":1},{"c":116,"r":6,"v":1},{"c":117,"r":6,"v":1},{"c":118,"r":6,"v":1},{"c":119,"r":6,"v":1},
{"c":120,"r":6,"v":1},{"c":121,"r":6,"v":1},{"c":122,"r":6,"v":1},{"c":123,"r":6,"v":1},{"c":124,"r":6,"v":1},{"c":125,"r":6,"v":1},{"c":126,"r":6,"v":1},{"c":127,"r":6,"v":1},{"c":128,"r":6,"v":1},{"c":129,"r":6,"v":1},
{"c":130,"r":6,"v":1},{"c":131,"r":6,"v":1},{"c":132,"r":6,"v":1},{"c":133,"r":6,"v":1},{"c":134,"r":6,"v":1},{"c":135,"r":6,"v":1},{"c":136,"r":6,"v":1},{"c":137,"r":6,"v":1},{"c":138,"r":6,"v":1},{"c":139,"r":6,"v":1},
{"c":140,"r":6,"v":1},{"c":141,"r":6,"v":1},{"c":142,"r":6,"v":1},{"c":143,"r":6,"v":1},{"c":144,"r":6,"v":1},{"c":145,"r":6,"v":1},{"c":146,"r":6,"v":1},{"c":147,"r":6,"v":1},{"c":148,"r":6,"v":1},{"c":149,"r":6,"v":1},
{"c":150,"r":6,"v":1},{"c":151,"r":6,"v":1},{"c":152,"r":6,"v":1},{"c":153,"r":6,"v":1},{"c":154,"r":6,"v":1},{"c":155,"r":6,"v":1},{"c":156,"r":6,"v":1},{"c":157,"r":6,"v":1},{"c":158,"r":6,"v":1},{"c":159,"r":6,"v":1},

{"c":0,"r":7,"v":0},{"c":1,"r":7,"v":0},{"c":2,"r":7,"v":0},{"c":3,"r":7,"v":1},{"c":4,"r":7,"v":1},{"c":5,"r":7,"v":1},{"c":6,"r":7,"v":1},{"c":7,"r":7,"v":1},{"c":8,"r":7,"v":0},{"c":9,"r":7,"v":0},
{"c":10,"r":7,"v":0},{"c":11,"r":7,"v":0},{"c":12,"r":7,"v":0},{"c":13,"r":7,"v":0},{"c":14,"r":7,"v":0},{"c":15,"r":7,"v":0},{"c":16,"r":7,"v":0},{"c":17,"r":7,"v":0},{"c":18,"r":7,"v":0},{"c":19,"r":7,"v":0},
{"c":20,"r":7,"v":0},{"c":21,"r":7,"v":0},{"c":22,"r":7,"v":0},{"c":23,"r":7,"v":0},{"c":24,"r":7,"v":0},{"c":25,"r":7,"v":0},{"c":26,"r":7,"v":0},{"c":27,"r":7,"v":0},{"c":28,"r":7,"v":0},{"c":29,"r":7,"v":0},
{"c":30,"r":7,"v":0},{"c":31,"r":7,"v":0},{"c":32,"r":7,"v":0},{"c":33,"r":7,"v":0},{"c":34,"r":7,"v":0},{"c":35,"r":7,"v":0},{"c":36,"r":7,"v":0},{"c":37,"r":7,"v":0},{"c":38,"r":7,"v":0},{"c":39,"r":7,"v":0},
{"c":40,"r":7,"v":0},{"c":41,"r":7,"v":0},{"c":42,"r":7,"v":0},{"c":43,"r":7,"v":0},{"c":44,"r":7,"v":0},{"c":45,"r":7,"v":0},{"c":46,"r":7,"v":0},{"c":47,"r":7,"v":0},{"c":48,"r":7,"v":0},{"c":49,"r":7,"v":0},
{"c":50,"r":7,"v":0},{"c":51,"r":7,"v":0},{"c":52,"r":7,"v":0},{"c":53,"r":7,"v":0},{"c":54,"r":7,"v":0},{"c":55,"r":7,"v":0},{"c":56,"r":7,"v":0},{"c":57,"r":7,"v":0},{"c":58,"r":7,"v":0},{"c":59,"r":7,"v":0},
{"c":60,"r":7,"v":0},{"c":61,"r":7,"v":0},{"c":62,"r":7,"v":0},{"c":63,"r":7,"v":0},{"c":64,"r":7,"v":0},{"c":65,"r":7,"v":0},{"c":66,"r":7,"v":0},{"c":67,"r":7,"v":0},{"c":68,"r":7,"v":0},{"c":69,"r":7,"v":0},
{"c":70,"r":7,"v":0},{"c":71,"r":7,"v":0},{"c":72,"r":7,"v":0},{"c":73,"r":7,"v":0},{"c":74,"r":7,"v":0},{"c":75,"r":7,"v":0},{"c":76,"r":7,"v":0},{"c":77,"r":7,"v":0},{"c":78,"r":7,"v":0},{"c":79,"r":7,"v":0},
{"c":80,"r":7,"v":0},{"c":81,"r":7,"v":0},{"c":82,"r":7,"v":0},{"c":83,"r":7,"v":0},{"c":84,"r":7,"v":0},{"c":85,"r":7,"v":0},{"c":86,"r":7,"v":0},{"c":87,"r":7,"v":0},{"c":88,"r":7,"v":0},{"c":89,"r":7,"v":0},
{"c":90,"r":7,"v":0},{"c":91,"r":7,"v":0},{"c":92,"r":7,"v":0},{"c":93,"r":7,"v":0},{"c":94,"r":7,"v":0},{"c":95,"r":7,"v":0},{"c":96,"r":7,"v":0},{"c":97,"r":7,"v":0},{"c":98,"r":7,"v":0},{"c":99,"r":7,"v":0},
{"c":100,"r":7,"v":0},{"c":101,"r":7,"v":0},{"c":102,"r":7,"v":0},{"c":103,"r":7,"v":0},{"c":104,"r":7,"v":0},{"c":105,"r":7,"v":0},{"c":106,"r":7,"v":0},{"c":107,"r":7,"v":0},{"c":108,"r":7,"v":0},{"c":109,"r":7,"v":0},
{"c":110,"r":7,"v":0},{"c":111,"r":7,"v":0},{"c":112,"r":7,"v":0},{"c":113,"r":7,"v":0},{"c":114,"r":7,"v":0},{"c":115,"r":7,"v":0},{"c":116,"r":7,"v":0},{"c":117,"r":7,"v":0},{"c":118,"r":7,"v":0},{"c":119,"r":7,"v":0},
{"c":120,"r":7,"v":0},{"c":121,"r":7,"v":0},{"c":122,"r":7,"v":0},{"c":123,"r":7,"v":0},{"c":124,"r":7,"v":1},{"c":125,"r":7,"v":1},{"c":126,"r":7,"v":0},{"c":127,"r":7,"v":0},{"c":128,"r":7,"v":0},{"c":129,"r":7,"v":0},
{"c":130,"r":7,"v":0},{"c":131,"r":7,"v":0},{"c":132,"r":7,"v":0},{"c":133,"r":7,"v":0},{"c":134,"r":7,"v":0},{"c":135,"r":7,"v":0},{"c":136,"r":7,"v":0},{"c":137,"r":7,"v":0},{"c":138,"r":7,"v":0},{"c":139,"r":7,"v":0},
{"c":140,"r":7,"v":0},{"c":141,"r":7,"v":0},{"c":142,"r":7,"v":0},{"c":143,"r":7,"v":0},{"c":144,"r":7,"v":0},{"c":145,"r":7,"v":0},{"c":146,"r":7,"v":0},{"c":147,"r":7,"v":0},{"c":148,"r":7,"v":0},{"c":149,"r":7,"v":0},
{"c":150,"r":7,"v":0},{"c":151,"r":7,"v":0},{"c":152,"r":7,"v":0},{"c":153,"r":7,"v":0},{"c":154,"r":7,"v":0},{"c":155,"r":7,"v":0},{"c":156,"r":7,"v":0},{"c":157,"r":7,"v":0},{"c":158,"r":7,"v":0},{"c":159,"r":7,"v":0}
]
},
"data": {"name": "cells"},
"layer": [
  {
    "mark": {"type": "rect", "strokeWidth": 1.2},
    "encoding": {
      "x": {"field": "c", "type": "ordinal", "scale": {"paddingInner": 0, "paddingOuter": 0}, "axis": {"orient": "bottom", "values": [0,20,40,60,80,100,120,140], "labelAngle": 0, "title": null, "zindex": 1}},
      "y": {"field": "r", "type": "ordinal", "scale": {"paddingInner": 0, "paddingOuter": 0}, "axis": {"orient": "left", "labelAngle": 0, "title": null, "zindex": 1}},
      "color": {"field": "v", "type": "quantitative", "scale": {"domain": [0, 1], "range": ["#008066", "#ffff66"], "interpolate": "rgb"}, "legend": null},
      "stroke": {"field": "v", "type": "quantitative", "scale": {"domain": [0, 1], "range": ["#008066", "#ffff66"], "interpolate": "rgb"}, "legend": null}
    }
  },
  {
    "mark": {"type": "rect", "opacity": 0},
    "encoding": {
      "x": {"field": "c", "type": "ordinal", "axis": {"orient": "top", "values": [0,20,40,60,80,100,120,140], "labels": false, "title": null, "zindex": 1}},
      "y": {"field": "r", "type": "ordinal", "axis": {"orient": "right", "labels": false, "title": null, "zindex": 1}}
    }
  }
],
"resolve": {"axis": {"x": "independent", "y": "independent"}}
}
